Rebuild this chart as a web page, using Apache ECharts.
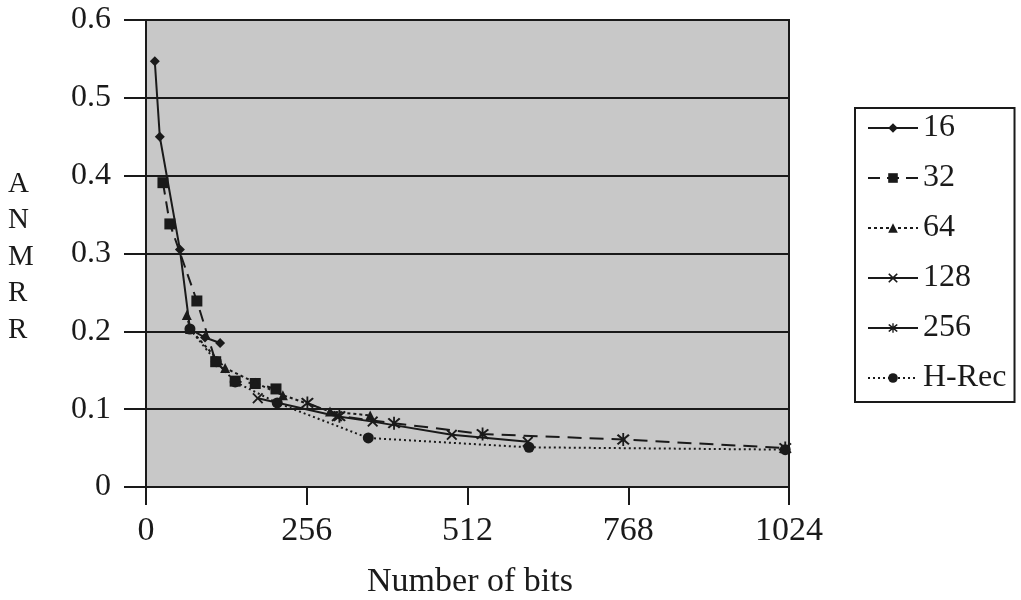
<!DOCTYPE html>
<html>
<head>
<meta charset="utf-8">
<script src="https://cdn.jsdelivr.net/npm/echarts@6/dist/echarts.min.js"></script>
<style>
html,body{margin:0;padding:0;background:#fff;}
#c{width:1021px;height:600px;}
</style>
</head>
<body>
<div id="c"></div>
<script>
// ---- data ----
const seriesNames = ['16', '32', '64', '128', '256', 'H-Rec'];
const s16  = [[14,0.547],[22,0.450],[54,0.305],[70,0.203],[94,0.192],[118,0.185]];
const s32  = [[27,0.391],[38,0.338],[81,0.239],[111,0.161],[142,0.136],[174,0.133],[207,0.126]];
const s64  = [[65,0.221],[70,0.203],[126,0.153],[174,0.134],[218,0.118],[293,0.097],[357,0.092]];
const s128 = [[178,0.114],[304,0.091],[361,0.084],[487,0.067],[608,0.058]];
const s256 = [[257,0.108],[308,0.091],[395,0.082],[536,0.068],[760,0.061],[1018,0.050]];
const sHRec = [[70,0.203],[112,0.161],[142,0.135],[209,0.108],[354,0.063],[610,0.051],[1018,0.048]];
const xTickValues = [0, 256, 512, 768, 1024];
const yAxisLabel = 'ANMRR';
const xAxisLabel = 'Number of bits';

const FONT = '"Liberation Serif", "DejaVu Serif", serif';
const INK = '#1a1a1a';
const crossPath = 'path://M0,1.2 L1.2,0 L5,3.8 L8.8,0 L10,1.2 L6.2,5 L10,8.8 L8.8,10 L5,6.2 L1.2,10 L0,8.8 L3.8,5 Z';
const starPath = 'path://M0,1.2 L1.2,0 L5,3.8 L8.8,0 L10,1.2 L6.2,5 L10,8.8 L8.8,10 L5,6.2 L1.2,10 L0,8.8 L3.8,5 Z M4.3,-1 L5.7,-1 L5.7,11 L4.3,11 Z';

function mk(name, data, symbol, size, lineType) {
  return {
    name: name, type: 'line', data: data,
    symbol: symbol, symbolSize: size, showSymbol: true,
    lineStyle: { color: INK, width: 2, type: lineType },
    itemStyle: { color: INK, borderColor: INK, borderWidth: 0 },
    emphasis: { disabled: true },
    animation: false, z: 3
  };
}

const chart = echarts.init(document.getElementById('c'), null, { renderer: 'canvas' });
chart.setOption({
  backgroundColor: '#ffffff',
  animation: false,
  grid: {
    left: 146, right: 232, top: 20, bottom: 113,
    show: true, backgroundColor: '#c8c8c8', borderColor: INK, borderWidth: 2
  },
  xAxis: {
    type: 'value', min: 0, max: 1024, interval: 256,
    axisLine: { show: true, onZero: false, lineStyle: { color: INK, width: 2 } },
    axisTick: { show: true, inside: false, length: 18, lineStyle: { color: INK, width: 2 } },
    axisLabel: {
      margin: 27, color: INK, fontFamily: FONT, fontSize: 34,
      customValues: xTickValues,
      formatter: v => String(Math.round(v))
    },
    splitLine: { show: false }
  },
  yAxis: {
    type: 'value', min: 0, max: 0.6, interval: 0.1,
    axisLine: { show: true, lineStyle: { color: INK, width: 2 } },
    axisTick: { show: true, inside: false, length: 22, lineStyle: { color: INK, width: 2 } },
    axisLabel: { margin: 35, color: INK, fontFamily: FONT, fontSize: 32,
      formatter: v => (Math.round(v * 10) / 10).toString() },
    splitLine: { show: true, lineStyle: { color: INK, width: 2 } }
  },
  legend: {
    orient: 'vertical', left: 855, top: 108,
    data: seriesNames.map(n => n === '256' ? { name: n, lineStyle: { type: 'solid' } } : { name: n }),
    backgroundColor: '#ffffff', borderColor: INK, borderWidth: 2, borderRadius: 0,
    padding: [4, 8, 8, 12],
    itemWidth: 50, itemHeight: 12, itemGap: 18,
    textStyle: { color: INK, fontFamily: FONT, fontSize: 32, lineHeight: 32 },
    selectedMode: false
  },
  graphic: [
    {
      type: 'text', left: 8, top: 166,
      style: { text: yAxisLabel.split('').join('\n'), font: '29px ' + FONT, fill: INK,
        lineHeight: 36.5, align: 'center', width: 28 }
    },
    {
      type: 'text', x: 470, y: 565,
      style: { text: xAxisLabel, font: '34px ' + FONT, fill: INK, align: 'center' }
    }
  ],
  series: [
    mk('16', s16, 'diamond', 10, 'solid'),
    mk('32', s32, 'rect', 11, [12, 7]),
    mk('64', s64, 'triangle', 10, [3, 3]),
    mk('128', s128, crossPath, 11, 'solid'),
    mk('256', s256, starPath, 13, [14, 8]),
    mk('H-Rec', sHRec, 'circle', 11, [2, 3])
  ]
});
</script>
</body>
</html>
